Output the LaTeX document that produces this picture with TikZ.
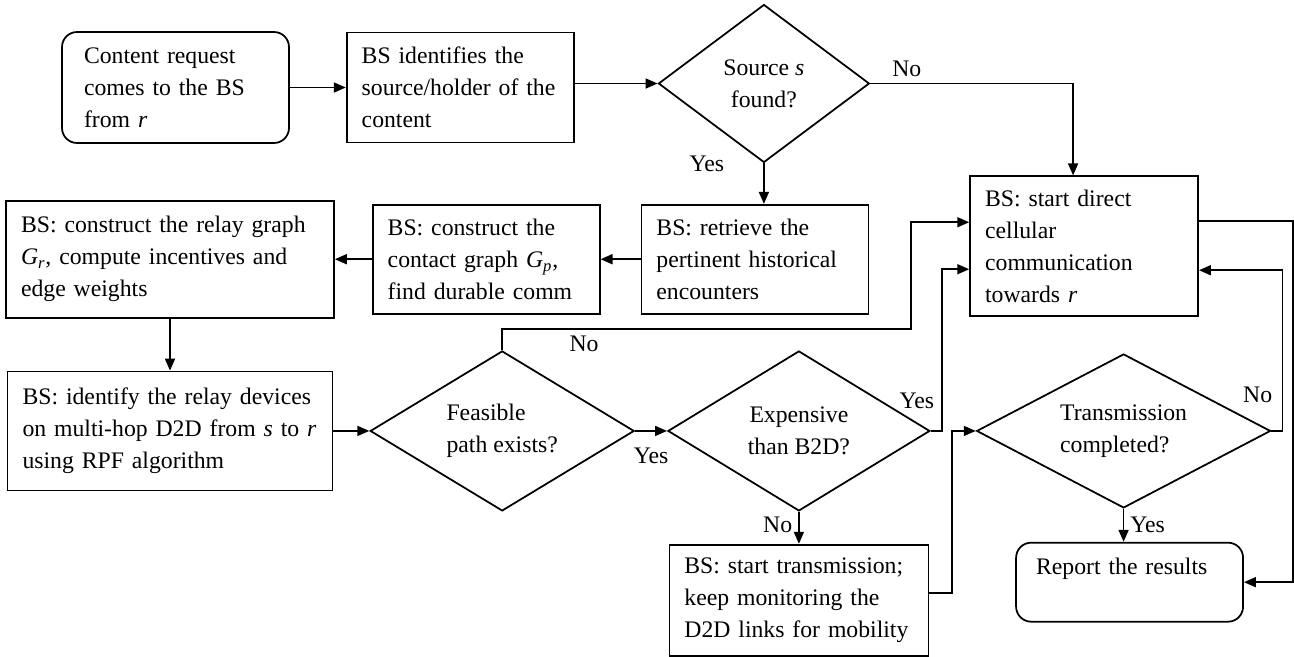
\documentclass[tikz,border=0pt]{standalone}
\usepackage{fontspec}
\setmainfont{Liberation Serif}
\usetikzlibrary{shapes.geometric,positioning,calc}
\usepgflibrary{arrows.meta}

\begin{document}
\begin{tikzpicture}
    [x=0.02cm, y=-0.02cm,
    arr/.style={-{Triangle[length=0.24cm, width=0.2cm]}},
    line width=1pt,
    font=\fontsize{13.5}{18.2}\selectfont,
    box/.style={draw, align=left, inner xsep=0.3cm, inner ysep=0pt},
    rbox/.style={box, rounded corners=0.3cm},
    decision/.style={draw, diamond, aspect=1.6, align=center, inner sep=0pt}]
    \useasboundingbox (0,0) rectangle (1294,656);

        %% top row
    \node[rbox, text width=3.66cm, inner xsep=0.44cm, minimum height=2.22cm] (S) at (175.5,87.5) {Content request\\comes to the BS\\from \textit{r}};
    \node[box, text width=3.94cm, minimum height=2.2cm, right=1.12cm of S] (B1) {BS identifies the\\source/holder of the\\content};
    \node[decision, minimum width=4.22cm, minimum height=3.16cm, right=1.66cm of B1, yshift=0.08cm] (D1) {Source \textit{s}\\found?};

        %% second row
    \node[box, text width=3.94cm, minimum height=2.18cm, below=0.81cm of D1, xshift=-0.18cm] (B2) {BS: retrieve the\\pertinent historical\\encounters};
    \node[box, text width=3.94cm, minimum height=2.18cm, left=0.8cm of B2] (B3) {BS: construct the\\contact graph \textit{G\textsubscript{p}},\\find durable comm};
    \node[box, text width=5.96cm, minimum height=2.34cm, left=0.74cm of B3] (B4) {BS: construct the relay graph\\\textit{G\textsubscript{r}}, compute incentives and\\edge weights};

        %% third row
    \node[box, text width=5.9cm, minimum height=2.38cm, below=1.04cm of B4] (B5) {BS: identify the relay devices\\on multi-hop D2D from \textit{s} to \textit{r}\\using RPF algorithm};
    \node[decision, align=left, minimum width=5.28cm, minimum height=3.2cm, right=0.72cm of B5] (D2) {Feasible\\path exists?};
    \node[decision, minimum width=5.24cm, minimum height=3.2cm, right=0.64cm of D2] (D3) {Expensive\\than B2D?};
    \node[box, text width=4.58cm, minimum height=2.22cm, below=0.64cm of D3] (B6) {BS: start transmission;\\keep monitoring the\\D2D links for mobility};
    \node[decision, aspect=1.9, align=left, minimum width=5.88cm, minimum height=3.08cm, right=0.9cm of D3] (D4) {Transmission\\completed?};
    \node[rbox, text width=3.74cm, inner xsep=0.4cm, minimum height=1.58cm, below=0.66cm of D4, xshift=0.12cm] (R) {Report the results\\\mbox{}};
    \node[box, text width=3.96cm, minimum height=2.8cm, above=0.72cm of D4, xshift=-0.79cm] (B7) {BS: start direct\\cellular\\communication\\towards \textit{r}};

        %% connectors
    \draw[arr] (S) -- (B1);
    \draw[arr] (B1.east |- D1.west) -- (D1.west);
    \draw[arr] (D1.east) -| node[pos=0.09, above] {No} ($(B7.north)+(-11,0)$);
    \draw[arr] (D1.south) -- node[pos=0, left=0.66cm] {Yes} (D1.south |- B2.north);
    \draw[arr] (B2) -- (B3);
    \draw[arr] (B3) -- (B4);
    \draw[arr] (B4) -- (B5);
    \draw[arr] (B5) -- (D2);
    \draw[arr] (D2.north) -- ++(0,-21) -| node[pos=0.1, below] {No} ($(B7.west)+(-58,-24)$) -- ($(B7.west)+(0,-24)$);
    \draw[arr] (D2) -- node[below=0.2cm] {Yes} (D3);
    \draw[arr] (D3.east) node[anchor=south east, xshift=0.2cm, yshift=0.3cm] {Yes} -- ++(11,0) |- ($(B7.west)+(0,23)$);
    \draw[arr] (D3) -- node[pos=0.4, left] {No} (B6);
    \draw[arr] ($(B6.east)+(0,-7)$) -- ++(23,0) |- (D4.west);
    \draw[arr] (D4.east) node[anchor=south east, xshift=0.15cm, yshift=0.42cm] {No} -- ++(11,0) |- ($(B7.east)+(0,24)$);
    \draw[arr] (D4.south) -- node[right] {Yes} (D4.south |- R.north);
    \draw[arr] ($(B7.east)+(0,-25)$) -| ($(R.east)+(49,0)$) -- (R.east);
\end{tikzpicture}
\end{document}
